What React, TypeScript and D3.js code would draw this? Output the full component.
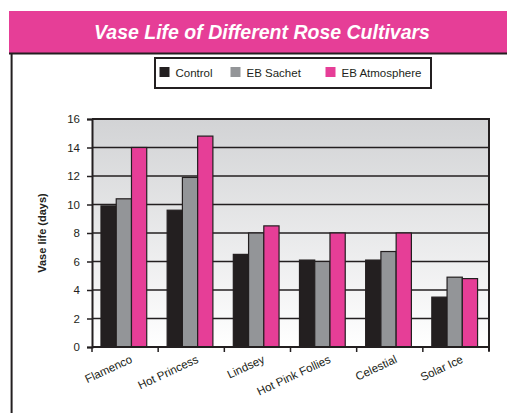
import React, { useEffect, useRef } from "react";
import * as d3 from "d3";

const cultivars = ["Flamenco", "Hot Princess", "Lindsey", "Hot Pink Follies", "Celestial", "Solar Ice"];
const seriesNames = ["Control", "EB Sachet", "EB Atmosphere"];
const control = [9.9, 9.6, 6.5, 6.1, 6.1, 3.5];
const ebSachet = [10.4, 11.9, 8.0, 6.0, 6.7, 4.9];
const ebAtmosphere = [14.0, 14.8, 8.5, 8.0, 8.0, 4.8];
const yTicks = [0, 2, 4, 6, 8, 10, 12, 14, 16];
const colors = ["#231f20", "#939598", "#e63e97"];

const W = 507;
const H = 413;

const App = () => {
  const ref = useRef<SVGSVGElement>(null);

  useEffect(() => {
    const svg = d3.select(ref.current);
    svg.selectAll("*").remove();
    const font = "Liberation Sans, Arial, sans-serif";

    // header band
    svg.append("rect").attr("x", 9).attr("y", 11).attr("width", W - 9).attr("height", 42).attr("fill", "#e63e97");
    svg.append("text")
      .attr("x", 262).attr("y", 39)
      .attr("text-anchor", "middle")
      .attr("fill", "#fff")
      .style("font", `italic bold 19.5px ${font}`)
      .text("Vase Life of Different Rose Cultivars");
    // frame lines
    svg.append("line").attr("x1", 9).attr("x2", W).attr("y1", 53.6).attr("y2", 53.6).attr("stroke", "#231f20").attr("stroke-width", 2);
    svg.append("line").attr("x1", 11.6).attr("x2", 11.6).attr("y1", 53).attr("y2", H).attr("stroke", "#231f20").attr("stroke-width", 2);

    // plot
    const left = 92, right = 489, top = 119, bottom = 347;
    const x = d3.scaleBand().domain(cultivars).range([left, right]).paddingInner(0).paddingOuter(0);
    const y = d3.scaleLinear().domain([0, 16]).range([bottom, top]);
    const inner = d3.scaleBand().domain(seriesNames).range([0, x.bandwidth()]).paddingOuter(0.67).paddingInner(0).align(0.44);

    const defs = svg.append("defs");
    const grad = defs.append("linearGradient").attr("id", "bg").attr("x1", 0).attr("x2", 0).attr("y1", 0).attr("y2", 1);
    grad.append("stop").attr("offset", "0%").attr("stop-color", "#d2d3d5");
    grad.append("stop").attr("offset", "100%").attr("stop-color", "#ffffff");
    svg.append("rect").attr("x", left).attr("y", top).attr("width", right - left).attr("height", bottom - top).attr("fill", "url(#bg)");

    // gridlines
    svg.append("g").selectAll("line").data(yTicks.filter(t => t > 0)).join("line")
      .attr("x1", left).attr("x2", right)
      .attr("y1", d => y(d)).attr("y2", d => y(d))
      .attr("stroke", "#231f20").attr("stroke-width", d => (d === 16 ? 2.2 : 1.4));

    // bars
    const data = [control, ebSachet, ebAtmosphere];
    const g = svg.append("g");
    cultivars.forEach((c, i) => {
      seriesNames.forEach((s, j) => {
        const v = data[j][i];
        g.append("rect")
          .attr("x", x(c)! + inner(s)!)
          .attr("y", y(v))
          .attr("width", inner.bandwidth())
          .attr("height", bottom - y(v))
          .attr("fill", colors[j])
          .attr("stroke", "#231f20")
          .attr("stroke-width", 1.2);
      });
    });

    // right border
    svg.append("line").attr("x1", right).attr("x2", right).attr("y1", top - 1).attr("y2", bottom + 4).attr("stroke", "#231f20").attr("stroke-width", 2);

    // y axis
    const yAxis = svg.append("g").attr("transform", `translate(${left},0)`)
      .call(d3.axisLeft(y).tickValues(yTicks).tickSize(5).tickPadding(7).tickFormat(d3.format("d")));
    yAxis.select(".domain").attr("stroke", "#231f20").attr("stroke-width", 2);
    yAxis.selectAll(".tick line").attr("stroke", "#231f20").attr("stroke-width", 1.5);
    yAxis.selectAll("text").attr("fill", "#231f20").style("font", `11.5px ${font}`);

    // x axis
    const xAxis = svg.append("g").attr("transform", `translate(0,${bottom})`);
    xAxis.append("line").attr("x1", left).attr("x2", right).attr("stroke", "#231f20").attr("stroke-width", 2);
    const xTicks = cultivars.map(c => x(c)!).concat([right]);
    xAxis.selectAll("line.tk").data(xTicks).join("line").attr("class", "tk")
      .attr("x1", d => d).attr("x2", d => d).attr("y1", 0).attr("y2", 5)
      .attr("stroke", "#231f20").attr("stroke-width", 1.5);
    xAxis.selectAll("text").data(cultivars).join("text")
      .attr("transform", d => `translate(${x(d)! + x.bandwidth() / 2 + 8},${15}) rotate(-25)`)
      .attr("text-anchor", "end")
      .attr("fill", "#231f20")
      .style("font", `11.5px ${font}`)
      .text(d => d);

    svg.append("text")
      .attr("transform", `translate(46,${(top + bottom) / 2}) rotate(-90)`)
      .attr("text-anchor", "middle")
      .attr("fill", "#231f20")
      .style("font", `bold 11px ${font}`)
      .text("Vase life (days)");

    // legend
    svg.append("rect").attr("x", 155).attr("y", 58).attr("width", 276).attr("height", 30)
      .attr("fill", "#fff").attr("stroke", "#231f20").attr("stroke-width", 2);
    const legX = [159.5, 230.5, 325.5];
    seriesNames.forEach((s, j) => {
      svg.append("rect").attr("x", legX[j]).attr("y", 67).attr("width", 10).attr("height", 10).attr("fill", colors[j]);
      svg.append("text").attr("x", legX[j] + 16).attr("y", 77)
        .attr("fill", "#231f20").style("font", `11.5px ${font}`).text(s);
    });
  }, []);

  return <svg ref={ref} width={W} height={H} style={{ position: "absolute", left: 0, top: 0 }} />;
};

export default App;
